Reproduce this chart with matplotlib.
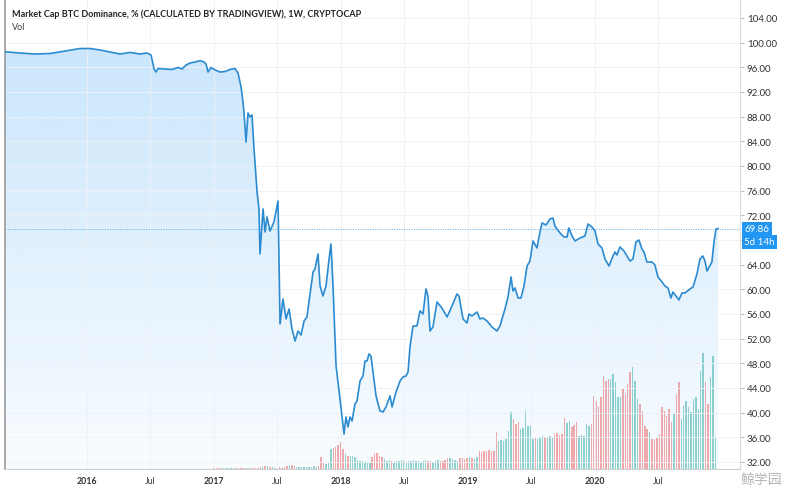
import numpy as np
import matplotlib
matplotlib.use("Agg")
import matplotlib.pyplot as plt
from matplotlib.colors import LinearSegmentedColormap
from matplotlib.patches import Polygon
from matplotlib.transforms import blended_transform_factory

plt.rcParams['font.family'] = ['Lato', 'DejaVu Sans']

# BTC dominance (%); time as decimal year
dom_t = [2015.354, 2015.472, 2015.591, 2015.709, 2015.827, 2015.945, 2016.024, 2016.102,
         2016.181, 2016.260, 2016.339, 2016.417, 2016.472, 2016.504, 2016.528, 2016.543,
         2016.559, 2016.614, 2016.669, 2016.717, 2016.748, 2016.780, 2016.811, 2016.850,
         2016.890, 2016.921, 2016.937, 2016.953, 2016.976, 2017.008, 2017.047, 2017.087,
         2017.126, 2017.165, 2017.189, 2017.213, 2017.228, 2017.236, 2017.252, 2017.268,
         2017.283, 2017.299, 2017.315, 2017.331, 2017.339, 2017.354, 2017.362, 2017.386,
         2017.402, 2017.417, 2017.441, 2017.472, 2017.504, 2017.520, 2017.543, 2017.567,
         2017.591, 2017.614, 2017.638, 2017.661, 2017.685, 2017.709, 2017.732, 2017.756,
         2017.780, 2017.795, 2017.819, 2017.835, 2017.858, 2017.882, 2017.906, 2017.921,
         2017.937, 2017.961, 2017.992, 2018.016, 2018.024, 2018.039, 2018.055, 2018.071,
         2018.087, 2018.110, 2018.126, 2018.150, 2018.173, 2018.189, 2018.205, 2018.220,
         2018.236, 2018.252, 2018.276, 2018.307, 2018.331, 2018.354, 2018.386, 2018.402,
         2018.433, 2018.465, 2018.488, 2018.512, 2018.528, 2018.543, 2018.567, 2018.598,
         2018.622, 2018.646, 2018.669, 2018.685, 2018.701, 2018.724, 2018.756, 2018.795,
         2018.835, 2018.874, 2018.913, 2018.929, 2018.961, 2018.992, 2019.008, 2019.031,
         2019.071, 2019.094, 2019.118, 2019.150, 2019.189, 2019.228, 2019.252, 2019.291,
         2019.315, 2019.339, 2019.354, 2019.370, 2019.394, 2019.417, 2019.441, 2019.465,
         2019.488, 2019.512, 2019.543, 2019.567, 2019.583, 2019.614, 2019.646, 2019.669,
         2019.685, 2019.701, 2019.732, 2019.756, 2019.780, 2019.795, 2019.819, 2019.843,
         2019.882, 2019.921, 2019.945, 2019.976, 2020.000, 2020.024, 2020.055, 2020.079,
         2020.110, 2020.142, 2020.157, 2020.173, 2020.197, 2020.228, 2020.252, 2020.276,
         2020.299, 2020.323, 2020.346, 2020.370, 2020.386, 2020.409, 2020.449, 2020.472,
         2020.496, 2020.528, 2020.551, 2020.575, 2020.598, 2020.614, 2020.638, 2020.661,
         2020.685, 2020.709, 2020.748, 2020.772, 2020.803, 2020.827, 2020.850, 2020.866,
         2020.882, 2020.921, 2020.937, 2020.953, 2020.969]
dom_v = [98.53, 98.32, 98.16, 98.24, 98.65, 99.05, 99.05, 98.81,
         98.49, 98.16, 98.41, 98.16, 98.32, 98.00, 95.73, 95.24,
         95.81, 95.73, 95.65, 95.97, 95.73, 96.38, 96.70, 96.86,
         97.08, 96.86, 96.54, 95.24, 95.97, 95.57, 95.24, 95.32,
         95.65, 95.81, 95.08, 92.81, 90.38, 88.76, 83.89, 88.60,
         87.95, 88.27, 82.76, 78.22, 75.78, 73.03, 65.73, 73.03,
         69.30, 71.73, 69.46, 70.92, 74.32, 54.38, 58.43, 55.19,
         56.81, 53.57, 51.62, 53.24, 52.59, 54.86, 55.51, 59.24,
         62.81, 63.30, 65.73, 60.54, 58.92, 60.54, 64.92, 67.35,
         60.54, 47.57, 42.22, 37.84, 36.54, 39.30, 37.68, 39.30,
         38.65, 41.41, 41.89, 45.14, 45.95, 48.38, 48.38, 49.51,
         49.19, 46.59, 42.70, 40.27, 40.11, 40.92, 42.70, 40.92,
         43.35, 45.14, 45.78, 45.95, 46.59, 50.65, 54.05, 54.05,
         56.49, 56.00, 60.05, 58.92, 53.24, 53.89, 57.95, 56.97,
         55.51, 57.30, 59.24, 58.92, 55.19, 54.54, 56.00, 55.68,
         56.32, 55.19, 55.35, 54.86, 53.89, 53.24, 54.05, 56.81,
         58.76, 62.00, 59.73, 60.22, 58.59, 58.59, 60.54, 63.78,
         64.59, 67.84, 66.70, 69.30, 70.76, 70.43, 71.41, 71.57,
         70.27, 69.78, 68.97, 68.49, 68.49, 69.95, 68.65, 67.84,
         68.32, 68.65, 70.59, 70.11, 69.46, 67.35, 66.70, 64.92,
         63.78, 65.41, 66.05, 65.57, 66.86, 66.22, 65.41, 64.59,
         64.92, 67.68, 68.00, 66.54, 66.05, 64.43, 64.43, 63.95,
         62.00, 61.19, 60.54, 60.22, 58.59, 59.57, 58.92, 58.27,
         59.41, 59.41, 60.05, 60.38, 62.49, 64.92, 65.41, 64.59,
         62.97, 64.43, 67.68, 69.78, 69.86]

# weekly volume (relative units), starting first week of 2017
vol_start = 2017.0
vol = [1, 1, 1, 1, 1, 1, 1, 1, 1, 1, 1, 1, 1, 1, 1, 1, 1, 1, 1,
       2, 2, 3, 3, 2, 2,
       1.5, 1.5, 2, 1.5, 2, 3,
       4, 4,
       3, 2, 2, 2, 2, 2, 2, 2, 3, 2, 3,
       12, 6, 5, 7,
       20, 21, 22, 24, 27, 20, 15, 13,
       13, 13, 12, 9, 8, 8, 7, 6, 6,
       12, 15, 16, 13, 12, 10,
       8, 9, 8, 7, 8, 8, 9, 8, 7, 8, 8, 9, 8, 8, 7, 8, 9, 8, 8, 7, 8, 9, 8, 8,
       9, 11, 11, 10, 9,
       8, 11, 11, 10, 11, 12, 11, 10, 12,
       18, 17, 18, 18, 19, 18, 18,
       37, 28, 29, 28, 30, 38,
       57, 50, 45, 47, 40, 41, 58, 43, 43,
       30, 31, 30, 32, 33, 32, 31, 33, 32,
       35, 36, 34, 35, 51, 46, 48, 42, 44, 47,
       33, 34, 33, 45, 43, 45,
       73, 68, 63, 72, 93, 88, 90, 90, 95, 87,
       72, 72, 80, 75, 85, 97, 102, 88, 70, 65,
       58, 43, 40, 37, 30, 30, 31, 35,
       62, 58, 53, 60, 47, 55, 75, 87, 50, 63,
       68, 62, 57, 70, 72, 60, 98, 116, 87, 65, 92, 113, 32]

y_ticks = list(range(32, 105, 4))
x_ticks = [2016, 2016.497, 2017, 2017.496, 2018, 2018.496, 2019, 2019.496, 2020, 2020.497]
x_labels = ['2016', 'Jul', '2017', 'Jul', '2018', 'Jul', '2019', 'Jul', '2020', 'Jul']
last_value = 69.86

xmin, xmax = 2015.354, 2021.142
ymin, ymax = 30.86, 107.08

W, H = 788, 489
fig = plt.figure(figsize=(W / 100, H / 100), dpi=100)
rect = [5 / W, 19 / H, 735 / W, 470 / H]

# volume panel underneath
axv = fig.add_axes(rect)
vt = vol_start + np.arange(len(vol)) * 7 / 365.25
price_at = np.interp(vt, dom_t, dom_v)
prev = np.interp(vt - 7 / 365.25, dom_t, dom_v)
cols = np.where(price_at >= prev, '#92d3cc', '#f7a9a8')
axv.bar(vt, vol, width=0.6 * 7 / 365.25, color=cols, align='center')
axv.set_xlim(xmin, xmax)
axv.set_ylim(0, 470)
axv.axis('off')

ax = fig.add_axes(rect)
ax.patch.set_visible(False)
ax.set_xlim(xmin, xmax)
ax.set_ylim(ymin, ymax)

# gradient area under the line
cmap = LinearSegmentedColormap.from_list(
    'area', [(33 / 255, 150 / 255, 243 / 255, 0.03), (33 / 255, 150 / 255, 243 / 255, 0.24)])
grad = np.linspace(0, 1, 256).reshape(-1, 1)
im = ax.imshow(grad, extent=[xmin, xmax, ymin, 100], origin='lower', aspect='auto',
               cmap=cmap, zorder=1, interpolation='bilinear')
verts = np.column_stack([dom_t + [dom_t[-1], dom_t[0]], dom_v + [ymin, ymin]])
area = Polygon(verts, closed=True, fc='none', ec='none')
ax.add_patch(area)
im.set_clip_path(area)
ax.set_xlim(xmin, xmax)
ax.set_ylim(ymin, ymax)

ax.plot(dom_t, dom_v, color='#2b8bd1', lw=1.2, zorder=3)
ax.axhline(last_value, color='#5aa9e6', lw=0.7, ls=(0, (1, 1.5)), zorder=2)

ax.set_xticks(x_ticks)
ax.set_xticklabels(x_labels)
for lab in ax.get_xticklabels():
    if lab.get_text() != 'Jul':
        lab.set_fontweight('bold')
ax.set_yticks(y_ticks)
ax.set_yticklabels(['' if v == 68 else f'{v:.2f}' for v in y_ticks])
ax.yaxis.tick_right()
ax.tick_params(axis='x', length=0, pad=5, labelsize=6.3, labelcolor='#333333')
ax.tick_params(axis='y', length=3, width=0.6, color='#b0b0b0', pad=2,
               labelsize=7, labelcolor='#333333')
ax.grid(True, color='#eef1f5', lw=0.6, zorder=0)

for s in ['top']:
    ax.spines[s].set_visible(False)
ax.spines['left'].set_color('#9a9a9a')
ax.spines['left'].set_linewidth(1.2)
ax.spines['bottom'].set_color('#cfcfcf')
ax.spines['right'].set_color('#dcdcdc')

trans = blended_transform_factory(ax.transAxes, ax.transData)
ax.text(1.006, last_value, '69.86', transform=trans, va='center', ha='left',
        fontsize=7, color='white',
        bbox=dict(boxstyle='square,pad=0.25', fc='#2196f3', ec='none'))
ax.annotate('5d 14h', xy=(1.006, last_value), xycoords=trans, xytext=(0, -9.5),
            textcoords='offset points', va='center', ha='left', fontsize=7,
            color='white', bbox=dict(boxstyle='square,pad=0.25', fc='#2196f3', ec='none'))

fig.text(11.5 / W, 1 - 14 / H, 'Market Cap BTC Dominance, % (CALCULATED BY TRADINGVIEW), 1W, CRYPTOCAP',
         fontsize=6.5, fontweight='bold', color='#222222', va='center')
fig.text(11.5 / W, 1 - 27 / H, 'Vol', fontsize=6.5, color='#444444', va='center')
fig.text(782 / W, 1 - 480 / H, '鲸学园', fontsize=10, color='#b5b5b5', ha='right', va='center',
         family=['Noto Sans CJK SC', 'DejaVu Sans'])

fig.savefig('out.png', dpi=100)
